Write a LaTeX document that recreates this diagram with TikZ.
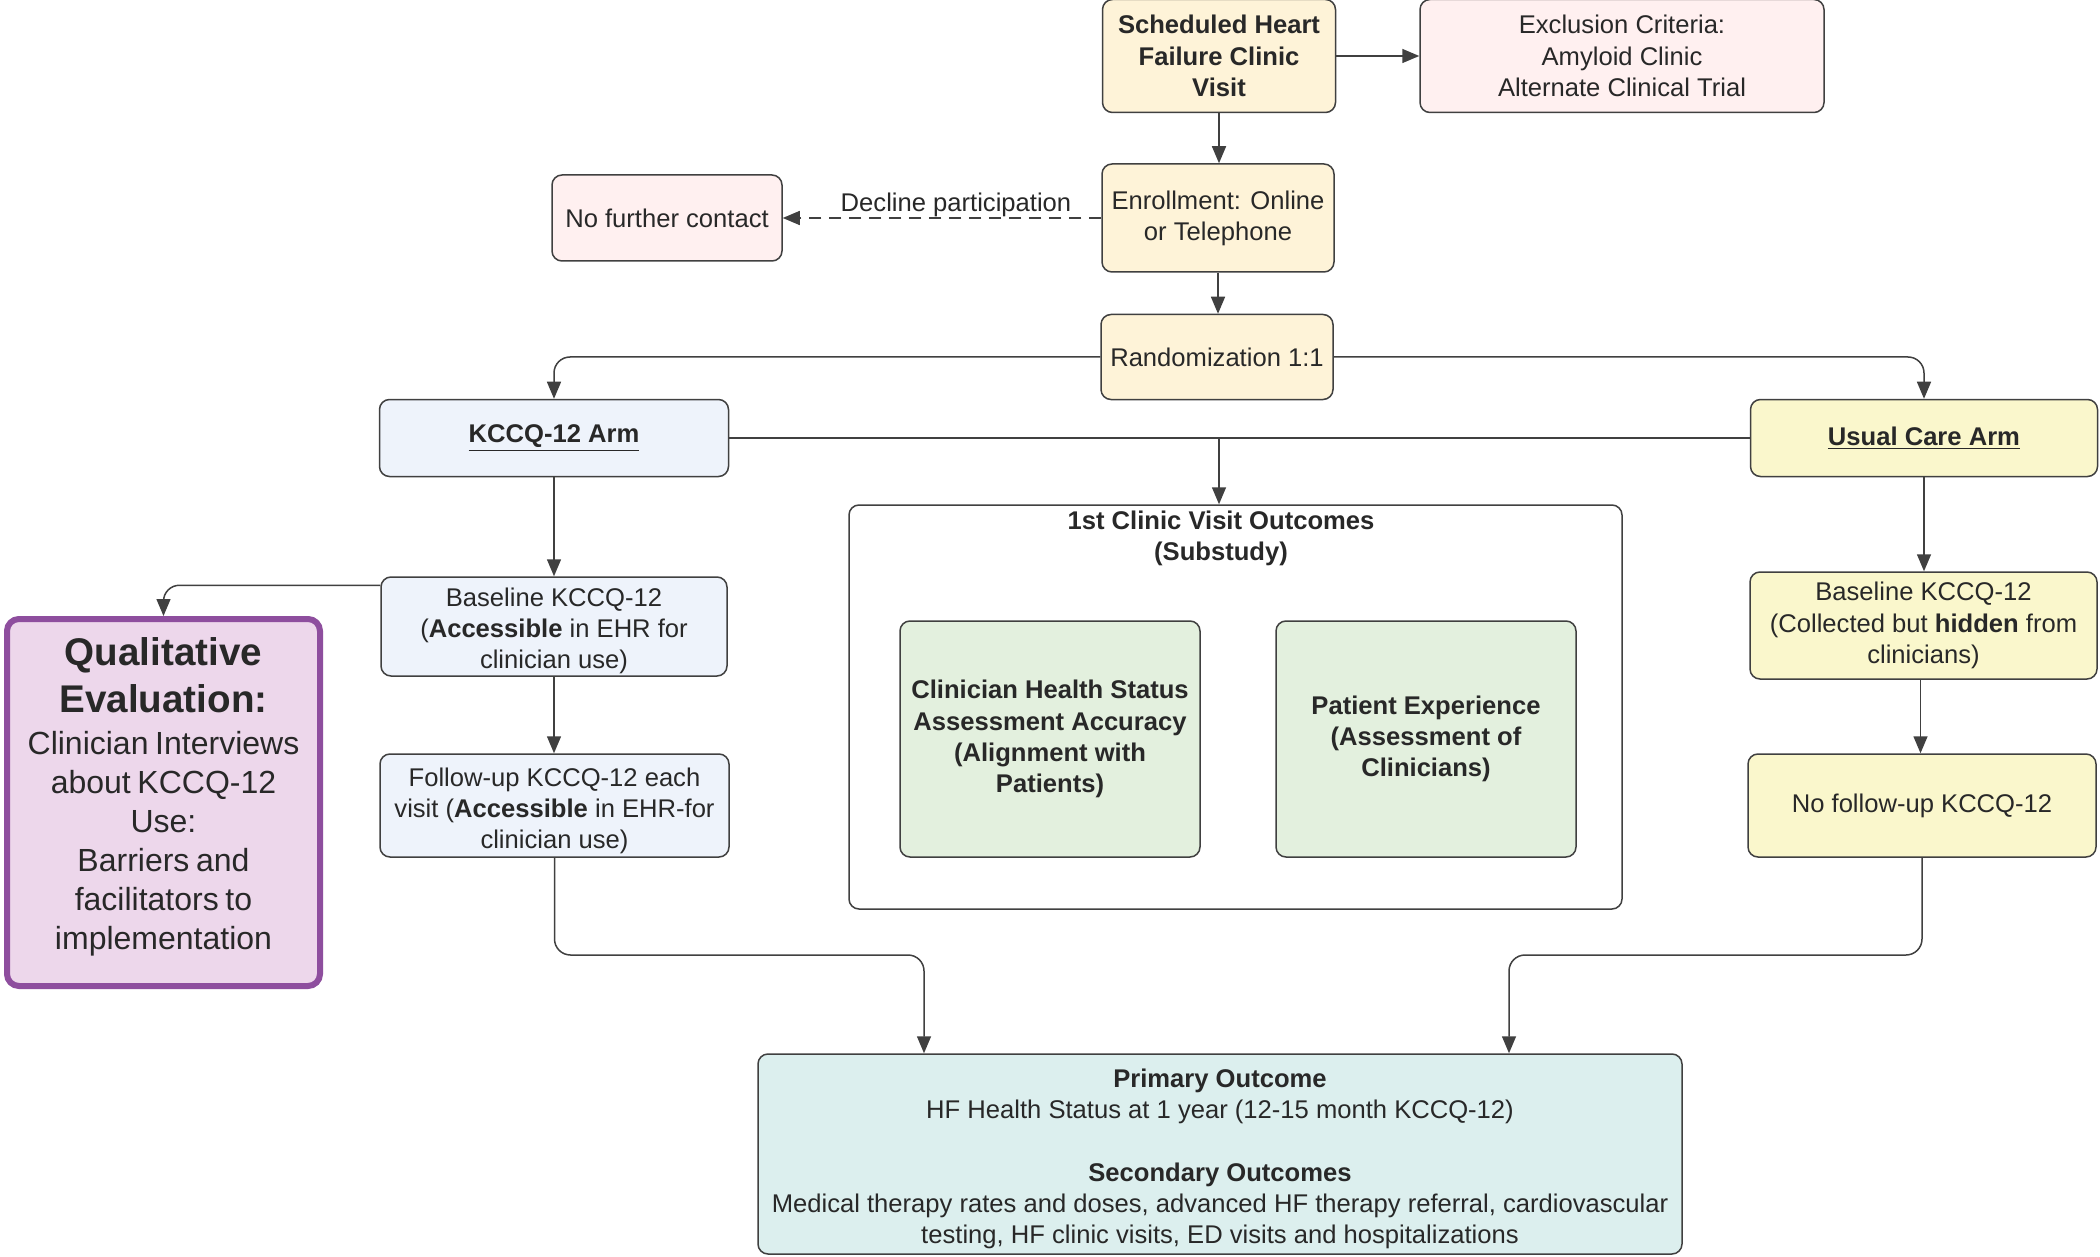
\documentclass[tikz,border=0pt]{standalone}
\usepackage{fontspec}
\setmainfont{Liberation Sans}
\usetikzlibrary{arrows.meta,calc}
\definecolor{linec}{HTML}{404040}
\definecolor{txtc}{HTML}{282828}
\definecolor{orangef}{HTML}{FEF3D8}
\definecolor{pinkf}{HTML}{FFF0F0}
\definecolor{bluef}{HTML}{EEF3FB}
\definecolor{yellowf}{HTML}{FAF7CC}
\definecolor{greenf}{HTML}{E3F0DE}
\definecolor{tealf}{HTML}{DCEFEE}
\definecolor{purplef}{HTML}{EDD7EB}
\definecolor{purplel}{HTML}{8E4E9E}
\begin{document}
\begin{tikzpicture}[x=0.5pt,y=-0.5pt,
  every node/.style={text=txtc},
  box/.style={draw=linec, line width=0.75pt, rounded corners=5pt, align=center, inner sep=2pt,
    font=\fontsize{12.8}{15.6}\selectfont},
  conn/.style={draw=linec, line width=0.75pt, rounded corners=8pt},
  arr/.style={conn, -{Triangle[length=8.5pt,width=7pt]}}
]
\useasboundingbox (0,0) rectangle (2100,1257);
\fill[white] (0,0) rectangle (2100,1257);

% nodes
\node[box, fill=orangef, minimum width=116.5pt, minimum height=56.5pt] (sched) at (1219,56)
  {\bfseries Scheduled Heart\\\bfseries Failure Clinic\\\bfseries Visit};
\node[box, fill=pinkf, minimum width=202pt, minimum height=56.5pt] (excl) at (1622,56)
  {Exclusion Criteria:\\Amyloid Clinic\\Alternate Clinical Trial};
\node[box, fill=orangef, minimum width=116pt, minimum height=54pt] (enroll) at (1218,218)
  {Enrollment: Online\\or Telephone};
\node[box, fill=pinkf, minimum width=115pt, minimum height=43pt] (nofu) at (667,218)
  {No further contact};
\node[box, fill=orangef, minimum width=116pt, minimum height=42.5pt] (rand) at (1217,357)
  {Randomization 1:1};
\node[box, fill=bluef, minimum width=174.5pt, minimum height=38.5pt] (kccq) at (554,438)
  {\bfseries\underline{KCCQ-12 Arm}};
\node[box, fill=yellowf, minimum width=173.5pt, minimum height=38.5pt] (usual) at (1924,438)
  {\bfseries\underline{Usual Care Arm}};
\node[box, minimum width=386.5pt, minimum height=202pt] (cont) at (1235.5,707) {};
\node[align=center, font=\fontsize{12.8}{15.6}\selectfont\bfseries] (conttitle) at (1221,538)
  {1st Clinic Visit Outcomes\\(Substudy)};
\node[box, fill=greenf, minimum width=150pt, minimum height=118pt] (chs) at (1050,739)
  {\bfseries Clinician Health Status\\\bfseries Assessment Accuracy\\\bfseries (Alignment with\\\bfseries Patients)};
\node[box, fill=greenf, minimum width=150pt, minimum height=118pt] (pe) at (1426,739)
  {\bfseries Patient Experience\\\bfseries (Assessment of\\\bfseries Clinicians)};
\node[box, fill=bluef, minimum width=173pt, minimum height=49.5pt] (baseL) at (554,626.5) {};
\node[align=center, font=\fontsize{12.8}{15.6}\selectfont] (baseLt) at (554,631)
  {Baseline KCCQ-12\\(\textbf{Accessible} in EHR for\\clinician use)};
\node[box, fill=bluef, minimum width=174.5pt, minimum height=51.5pt] (follow) at (554.5,805.5) {};
\node[align=center, font=\fontsize{12.8}{15.6}\selectfont] (followt) at (554.5,811)
  {Follow-up KCCQ-12 each\\visit (\textbf{Accessible} in EHR-for\\clinician use)};
\node[draw=purplel, line width=3pt, rounded corners=6pt, fill=purplef, minimum width=156.5pt,
  minimum height=183.5pt, text width=150pt, align=center, inner sep=2pt] (qual) at (163.5,802.5)
  {\fontsize{19.3}{23.5}\selectfont\bfseries Qualitative\\Evaluation:\par
   \vspace{1.5pt}\fontsize{16}{19.5}\selectfont\mdseries Clinician Interviews\\about KCCQ-12\\Use:\\Barriers and\\facilitators to\\implementation\par\vspace{6pt}};
\node[box, fill=yellowf, minimum width=173.5pt, minimum height=53.5pt] (baseR) at (1923.5,625.5)
  {Baseline KCCQ-12\\(Collected but \textbf{hidden} from\\clinicians)};
\node[box, fill=yellowf, minimum width=174pt, minimum height=51.5pt] (nofollow) at (1922,805.5)
  {No follow-up KCCQ-12};
\node[box, fill=tealf, minimum width=462pt, minimum height=100pt] (prim) at (1220,1154) {};
\node[align=center, font=\fontsize{12.8}{15.6}\selectfont] (primt) at (1220,1159)
  {\bfseries Primary Outcome\\HF Health Status at 1 year (12-15 month KCCQ-12)\\[15.6pt]
   \bfseries Secondary Outcomes\\Medical therapy rates and doses, advanced HF therapy referral, cardiovascular\\
   testing, HF clinic visits, ED visits and hospitalizations};

% connectors
\draw[arr] (sched.east) -- (excl.west);
\draw[arr] (sched.south) -- (sched.south |- enroll.north);
\draw[conn, dash pattern=on 6pt off 4pt, -{Triangle[length=8.5pt,width=7pt]}] (enroll.west) -- (nofu.east);
\node[anchor=base, font=\fontsize{12.8}{15.6}\selectfont, inner sep=0pt] (decl) at (956,212) {Decline participation};
\draw[arr] (enroll.south) -- (enroll.south |- rand.north);
\draw[arr] (rand.west) -| (kccq.north);
\draw[arr] (rand.east) -| (usual.north);
\draw[conn] (kccq.east) -- (usual.west);
\coordinate (mid) at (sched.south |- kccq.east);
\draw[arr] (mid) -- (mid |- cont.north);
\draw[arr] (kccq.south) -- (kccq.south |- baseL.north);
\draw[arr] ($(baseL.north west)+(0,9)$) -| (qual.north);
\draw[arr] (baseL.south) -- (baseL.south |- follow.north);
\draw[arr] (usual.south) -- (usual.south |- baseR.north);
\coordinate (bR) at ($(baseR.south)+(-3,0)$);
\draw[arr] (bR) -- (bR |- nofollow.north);
\coordinate (jL) at (924,955);
\coordinate (jR) at (1509,955);
\draw[arr] (follow.south) |- (jL) -- (jL |- prim.north);
\draw[arr] (nofollow.south) |- (jR) -- (jR |- prim.north);
\end{tikzpicture}
\end{document}
